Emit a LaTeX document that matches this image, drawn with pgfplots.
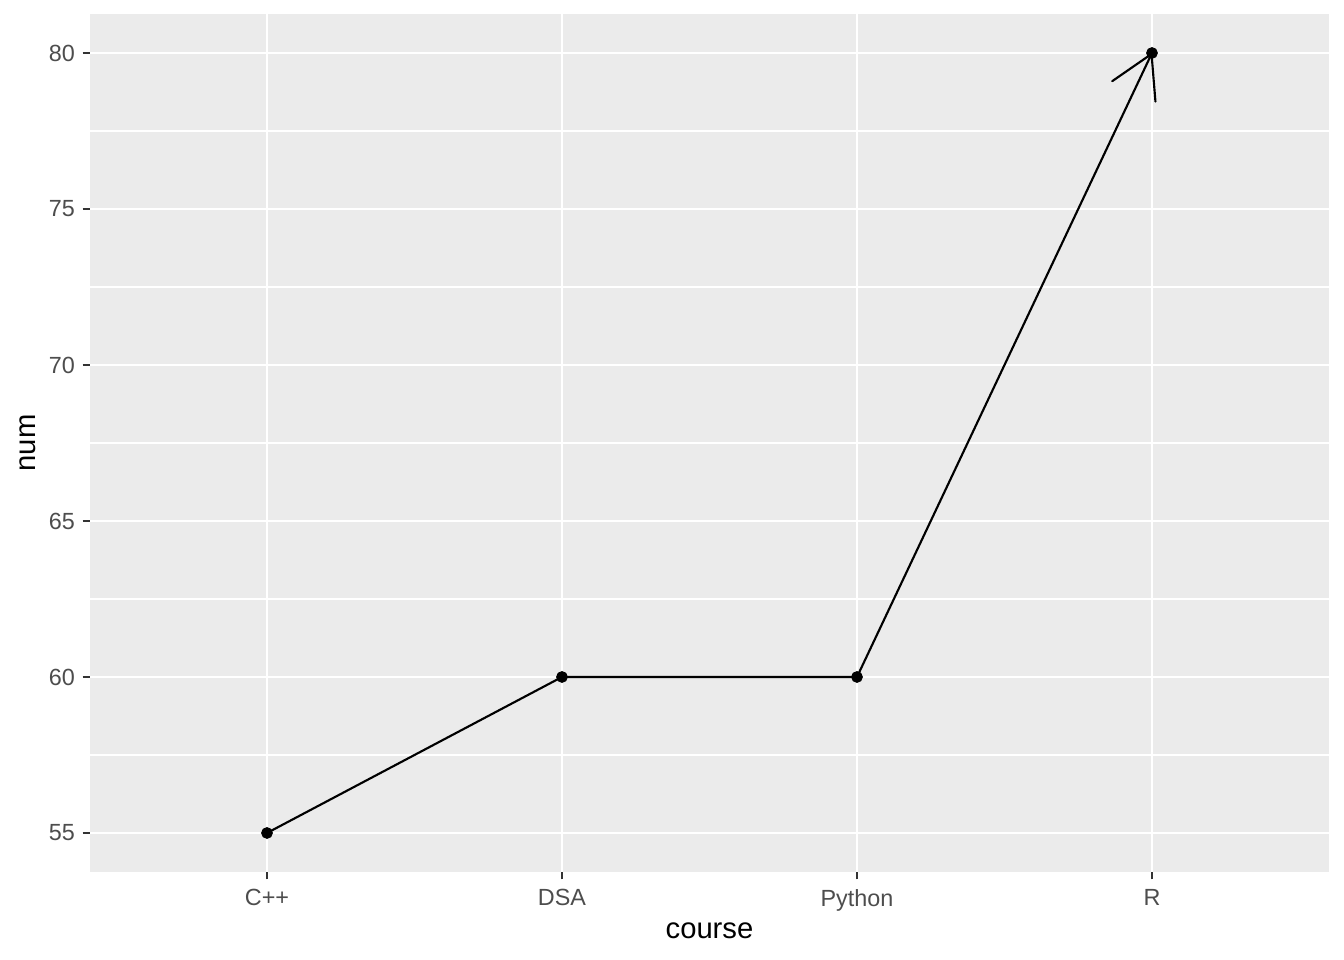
\documentclass[border=0pt]{standalone}
\usepackage{pgfplots}
\pgfplotsset{compat=1.18}
\usepackage{fontspec}
\setmainfont{Liberation Sans}
\usetikzlibrary{arrows.meta}
\definecolor{panelbg}{HTML}{EBEBEB}
\definecolor{ticklab}{HTML}{4D4D4D}
\definecolor{tickcol}{HTML}{333333}
\begin{document}
\begin{tikzpicture}
\path[use as bounding box] (-33.88pt,-33.12pt) rectangle (472.01pt,328.22pt);
\begin{axis}[
  at={(0,0)}, anchor=south west,
  scale only axis, width=466.36pt, height=322.95pt,
  xmin=-0.6, xmax=3.6, ymin=53.75, ymax=81.25,
  axis background/.style={fill=panelbg},
  axis line style={draw=none},
  xtick={0,1,2,3}, xticklabels={C++,DSA,Python,R},
  ytick={55,60,65,70,75,80},
  minor ytick={57.5,62.5,67.5,72.5,77.5},
  grid=both,
  major grid style={white, line width=1.07pt},
  minor grid style={white, line width=0.53pt},
  tick align=outside, tick pos=left,
  major tick length=2.75pt, minor tick length=0pt,
  major tick style={tickcol, line width=1.07pt},
  /pgf/number format/assume math mode=true,
  ticklabel style={font=\fontsize{8.8}{10}\selectfont, text=ticklab},
  xticklabel style={anchor=north, yshift=-0.3pt},
  yticklabel style={anchor=east, xshift=0.6pt},
  xlabel={course}, ylabel={num},
  label style={font=\fontsize{11}{13}\selectfont},
  xlabel style={at={(axis description cs:0.5,0)}, anchor=center, yshift=-22.2pt},
  ylabel style={at={(axis description cs:0,0.5)}, anchor=center, rotate=0, yshift=23.3pt},
  clip=false,
]
\addplot[black, line width=0.8pt, -{Straight Barb[angle=60:18pt, round]}] coordinates {(0,55) (1,60) (2,60) (3,80)};
\addplot[only marks, mark=*, mark size=2pt, black] coordinates {(0,55) (1,60) (2,60) (3,80)};
\end{axis}
\end{tikzpicture}
\end{document}
